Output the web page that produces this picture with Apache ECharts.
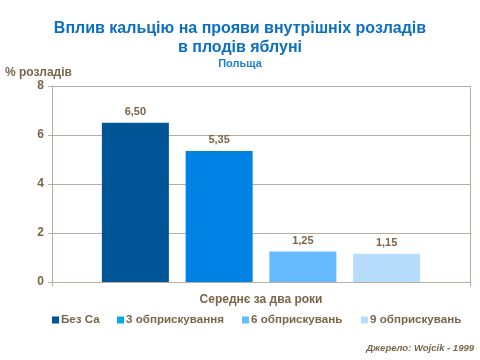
<!DOCTYPE html>
<html><head><meta charset="utf-8">
<script src="https://cdn.jsdelivr.net/npm/echarts@6/dist/echarts.min.js"></script>
<style>html,body{margin:0;padding:0;background:#fff}#c{width:480px;height:360px}</style>
</head><body><div id="c"></div>
<script>
const categories = ['Середнє за два роки'];
const seriesNames = ['Без Ca', '3 обприскування', '6 обприскувань', '9 обприскувань'];
const values = [6.50, 5.35, 1.25, 1.15];
const yTicks = [0, 2, 4, 6, 8];

const barColors = ['#005597', '#0081e4', '#66bbff', '#b6ddfb'];
const legendColors = ['#005597', '#00adef', '#66bbff', '#b6ddfb'];
const legendLeft = [52, 117, 242, 361];
const brown = '#7a6548';
const grid = '#b9ad9c';
const font = 'Liberation Sans';

const chart = echarts.init(document.getElementById('c'));
chart.setOption({
  animation: false,
  title: [
    {text: 'Вплив кальцію на прояви внутрішніх розладів\nв плодів яблуні', left: 'center', top: 14,
     textStyle: {fontFamily: font, fontWeight: 'bold', fontSize: 16, color: '#0a6fc2', lineHeight: 19}},
    {text: 'Польща', left: 'center', top: 53,
     textStyle: {fontFamily: font, fontWeight: 'bold', fontSize: 11, color: '#1a7fd6'}},
    {text: '% розладів', left: 0, top: 62,
     textStyle: {fontFamily: font, fontWeight: 'bold', fontSize: 12, color: brown}},
    {text: 'Джерело: Wojcik - 1999', right: 6, top: 343, padding: 0,
     textStyle: {fontFamily: font, fontWeight: 'bold', fontStyle: 'italic', fontSize: 9.5, color: brown}}
  ],
  grid: {left: 52, right: 10, top: 86, bottom: 78},
  legend: seriesNames.map((n, i) => ({
    top: 314, left: legendLeft[i], itemWidth: 7, itemHeight: 7, icon: 'rect', padding: 0,
    textStyle: {fontFamily: font, fontWeight: 'bold', fontSize: 11.6, color: brown, padding: [0, 0, 0, -3]},
    data: [{name: n, itemStyle: {color: legendColors[i]}}]
  })),
  xAxis: {
    type: 'category', data: categories,
    name: categories[0], nameLocation: 'middle', nameGap: 12,
    nameTextStyle: {fontFamily: font, fontWeight: 'bold', fontSize: 12, color: brown},
    axisLabel: {show: false},
    axisLine: {lineStyle: {color: grid}},
    axisTick: {show: true, length: 4, lineStyle: {color: grid}},
    splitLine: {show: true, lineStyle: {color: grid}}
  },
  yAxis: {
    type: 'value', min: 0, max: 8, interval: 2,
    axisLine: {show: true, lineStyle: {color: grid}},
    axisTick: {show: true, length: 4, lineStyle: {color: grid}},
    axisLabel: {fontFamily: font, fontWeight: 'bold', fontSize: 12, color: brown, margin: 8,
      formatter: v => yTicks.includes(v) ? String(v) : ''},
    splitLine: {lineStyle: {color: grid}}
  },
  series: seriesNames.map((n, i) => ({
    name: n, type: 'bar',
    data: [values[i]],
    barWidth: 67, barGap: '25%',
    itemStyle: {color: barColors[i]},
    label: {show: true, position: 'top', distance: 5,
      fontFamily: font, fontWeight: 'bold', fontSize: 11, color: brown,
      formatter: p => p.value.toFixed(2).replace('.', ',')}
  }))
});
</script></body></html>
